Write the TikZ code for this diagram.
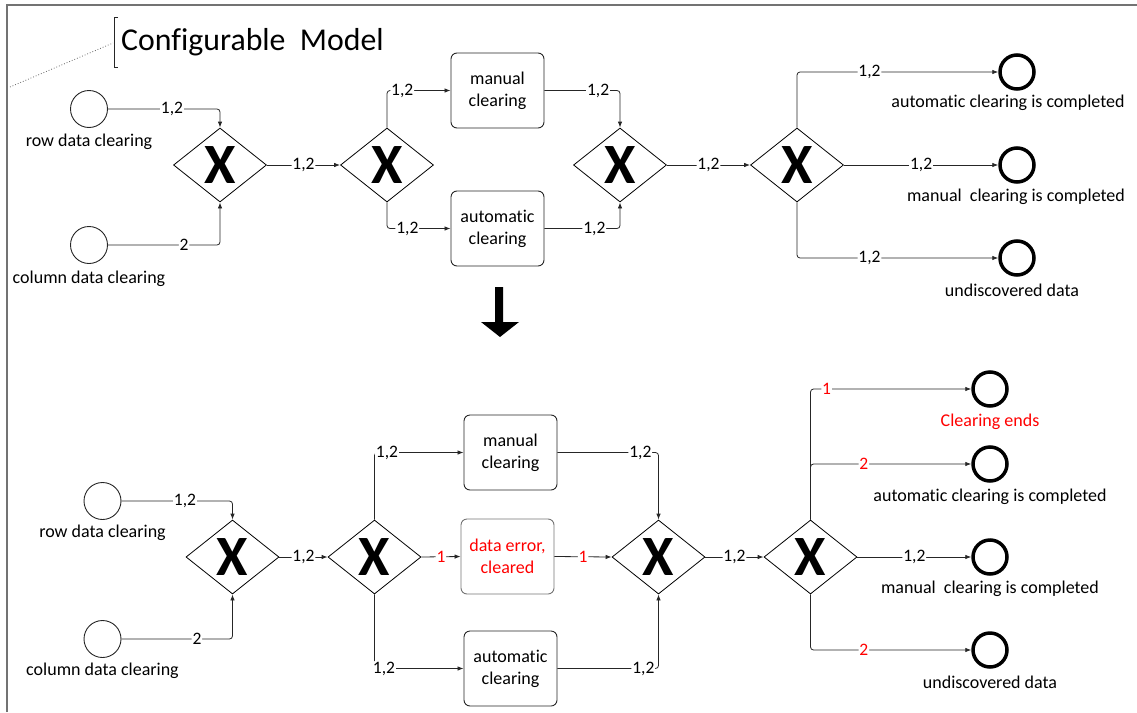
\documentclass[tikz,border=0pt]{standalone}
\usepackage{fontspec}
\setmainfont{Carlito}[Ligatures={NoCommon}]
\usetikzlibrary{arrows.meta,shapes.geometric}
\definecolor{myred}{RGB}{255,0,0}
\tikzset{
  gw/.style={diamond, draw=black, line width=0.8pt, minimum width=93pt, minimum height=74pt, aspect=1.26, inner sep=0pt, font=\bfseries\fontsize{57}{57}\selectfont},
  startev/.style={circle, draw=black!85, line width=0.9pt, minimum size=37pt, inner sep=0pt},
  endev/.style={circle, draw=black, line width=3.5pt, minimum size=34pt, inner sep=0pt},
  taskbox/.style={rectangle, rounded corners=6pt, draw=black!85, line width=0.9pt, minimum width=93pt, minimum height=75pt, align=center, font=\fontsize{18}{22}\selectfont},
  txt/.style={font=\fontsize{18}{22}\selectfont, inner sep=0pt},
  conn/.style={draw=black!85, line width=0.8pt, rounded corners=3pt, -{Latex[length=6pt,width=4.5pt]}},
  lab/.style={fill=white, inner sep=0.8pt, font=\fontsize{17.5}{18}\selectfont, text=black},
  rlab/.style={lab, text=myred}
}
\begin{document}
\begin{tikzpicture}[x=1pt,y=-1pt]
\useasboundingbox (0,0) rectangle (1137,712);
% frame
\draw[black!55, line width=1.3pt] (7,712) -- (7,5) -- (1137,5);
% title
\draw[black!85, line width=0.8pt] (118,17) -- (114,17) -- (114,67) -- (118,67);
\draw[black!60, dotted, line width=0.8pt] (10,87) -- (113,43);
\node[anchor=west, inner sep=0pt, font=\fontsize{31.8}{32}\selectfont] (title) at (121,42) {Configurable\ \ Model};

% ---------- top model ----------
\node[startev] (r1) at (89,109) {};
\node[txt] (r1l) at (89,142) {row data clearing};
\node[startev] (c1) at (89,245) {};
\node[txt] (c1l) at (89,279) {column data clearing};
\node[gw] (g1) at (220,165) {X};
\node[gw] (g2) at (387,165) {X};
\node[taskbox] (m1) at (497.5,90.5) {manual\\clearing};
\node[taskbox] (a1) at (497.5,228.5) {automatic\\clearing};
\node[gw] (g3) at (620,165) {X};
\node[gw] (g4) at (797,165) {X};
\node[endev] (e1) at (1017,72) {};
\node[endev] (e2) at (1017,165) {};
\node[endev] (e3) at (1017,258) {};
\node[txt] (e1l) at (1008,103) {automatic clearing is completed};
\node[txt] (e2l) at (1016,197) {manual\ \ clearing is completed};
\node[txt] (e3l) at (1012,290) {undiscovered data};

\draw[conn] (r1.east) -| node[lab, pos=0.286]{1,2} (g1.north);
\draw[conn] (c1.east) -| node[lab, pos=0.34]{2} (g1.south);
\draw[conn] (g1.east) -- node[lab]{1,2} (g2.west);
\draw[conn] (g2.north) |- node[lab, pos=0.62]{1,2} (m1.west);
\draw[conn] (g2.south) |- node[lab, pos=0.66]{1,2} (a1.west);
\draw[conn] (m1.east) -| node[lab, pos=0.355]{1,2} (g3.north);
\draw[conn] (a1.east) -| node[lab, pos=0.33]{1,2} (g3.south);
\draw[conn] (g3.east) -- node[lab]{1,2} (g4.west);
\draw[conn] (g4.north) |- node[lab, pos=0.68]{1,2} (e1.west);
\draw[conn] (g4.east) -- node[lab]{1,2} (e2.west);
\draw[conn] (g4.south) |- node[lab, pos=0.68]{1,2} (e3.west);

% block arrow
\fill[black] (495,287) -- (503,287) -- (503,322) -- (519,322) -- (500,337) -- (481,322) -- (495,322) -- cycle;

% ---------- bottom model ----------
\node[startev] (r2) at (102.5,501) {};
\node[txt] (r2l) at (102.5,533) {row data clearing};
\node[startev] (c2) at (102.5,639) {};
\node[txt] (c2l) at (102.5,671) {column data clearing};
\node[gw] (g5) at (232.5,557) {X};
\node[gw] (g6) at (374.5,557) {X};
\node[taskbox] (m2) at (510.5,452.5) {manual\\clearing};
\node[taskbox, draw=black!55, text=myred] (d2) at (507.5,556.5) {data error,\\cleared};
\node[taskbox] (a2) at (510.5,668.5) {automatic\\clearing};
\node[gw] (g7) at (658.5,557) {X};
\node[gw] (g8) at (810.5,557) {X};
\node[endev] (e4) at (990,389) {};
\node[endev] (e5) at (990,464) {};
\node[endev] (e6) at (990,557) {};
\node[endev] (e7) at (990,650) {};
\node[txt, text=myred] (e4l) at (990,422) {Clearing ends};
\node[txt] (e5l) at (990,497) {automatic clearing is completed};
\node[txt] (e6l) at (990,589) {manual\ \ clearing is completed};
\node[txt] (e7l) at (990,682) {undiscovered data};

\draw[conn] (r2.east) -| node[lab, pos=0.286]{1,2} (g5.north);
\draw[conn] (c2.east) -| node[lab, pos=0.34]{2} (g5.south);
\draw[conn] (g5.east) -- node[lab]{1,2} (g6.west);
\draw[conn] (g6.north) |- node[lab, pos=0.57]{1,2} (m2.west);
\draw[conn] (g6.south) |- node[lab, pos=0.553]{1,2} (a2.west);
\draw[conn] (g6.east) -- node[rlab]{1} (d2.west);
\draw[conn] (d2.east) -- node[rlab]{1} (g7.west);
\draw[conn] (m2.east) -| node[lab, pos=0.41]{1,2} (g7.north);
\draw[conn] (a2.east) -| node[lab, pos=0.425]{1,2} (g7.south);
\draw[conn] (g7.east) -- node[lab]{1,2} (g8.west);
\draw[conn] (g8.north) |- node[rlab, pos=0.55]{1} (e4.west);
\draw[conn] (g8.north) |- node[rlab, pos=0.666]{2} (e5.west);
\draw[conn] (g8.east) -- node[lab]{1,2} (e6.west);
\draw[conn] (g8.south) |- node[rlab, pos=0.666]{2} (e7.west);
\end{tikzpicture}
\end{document}
